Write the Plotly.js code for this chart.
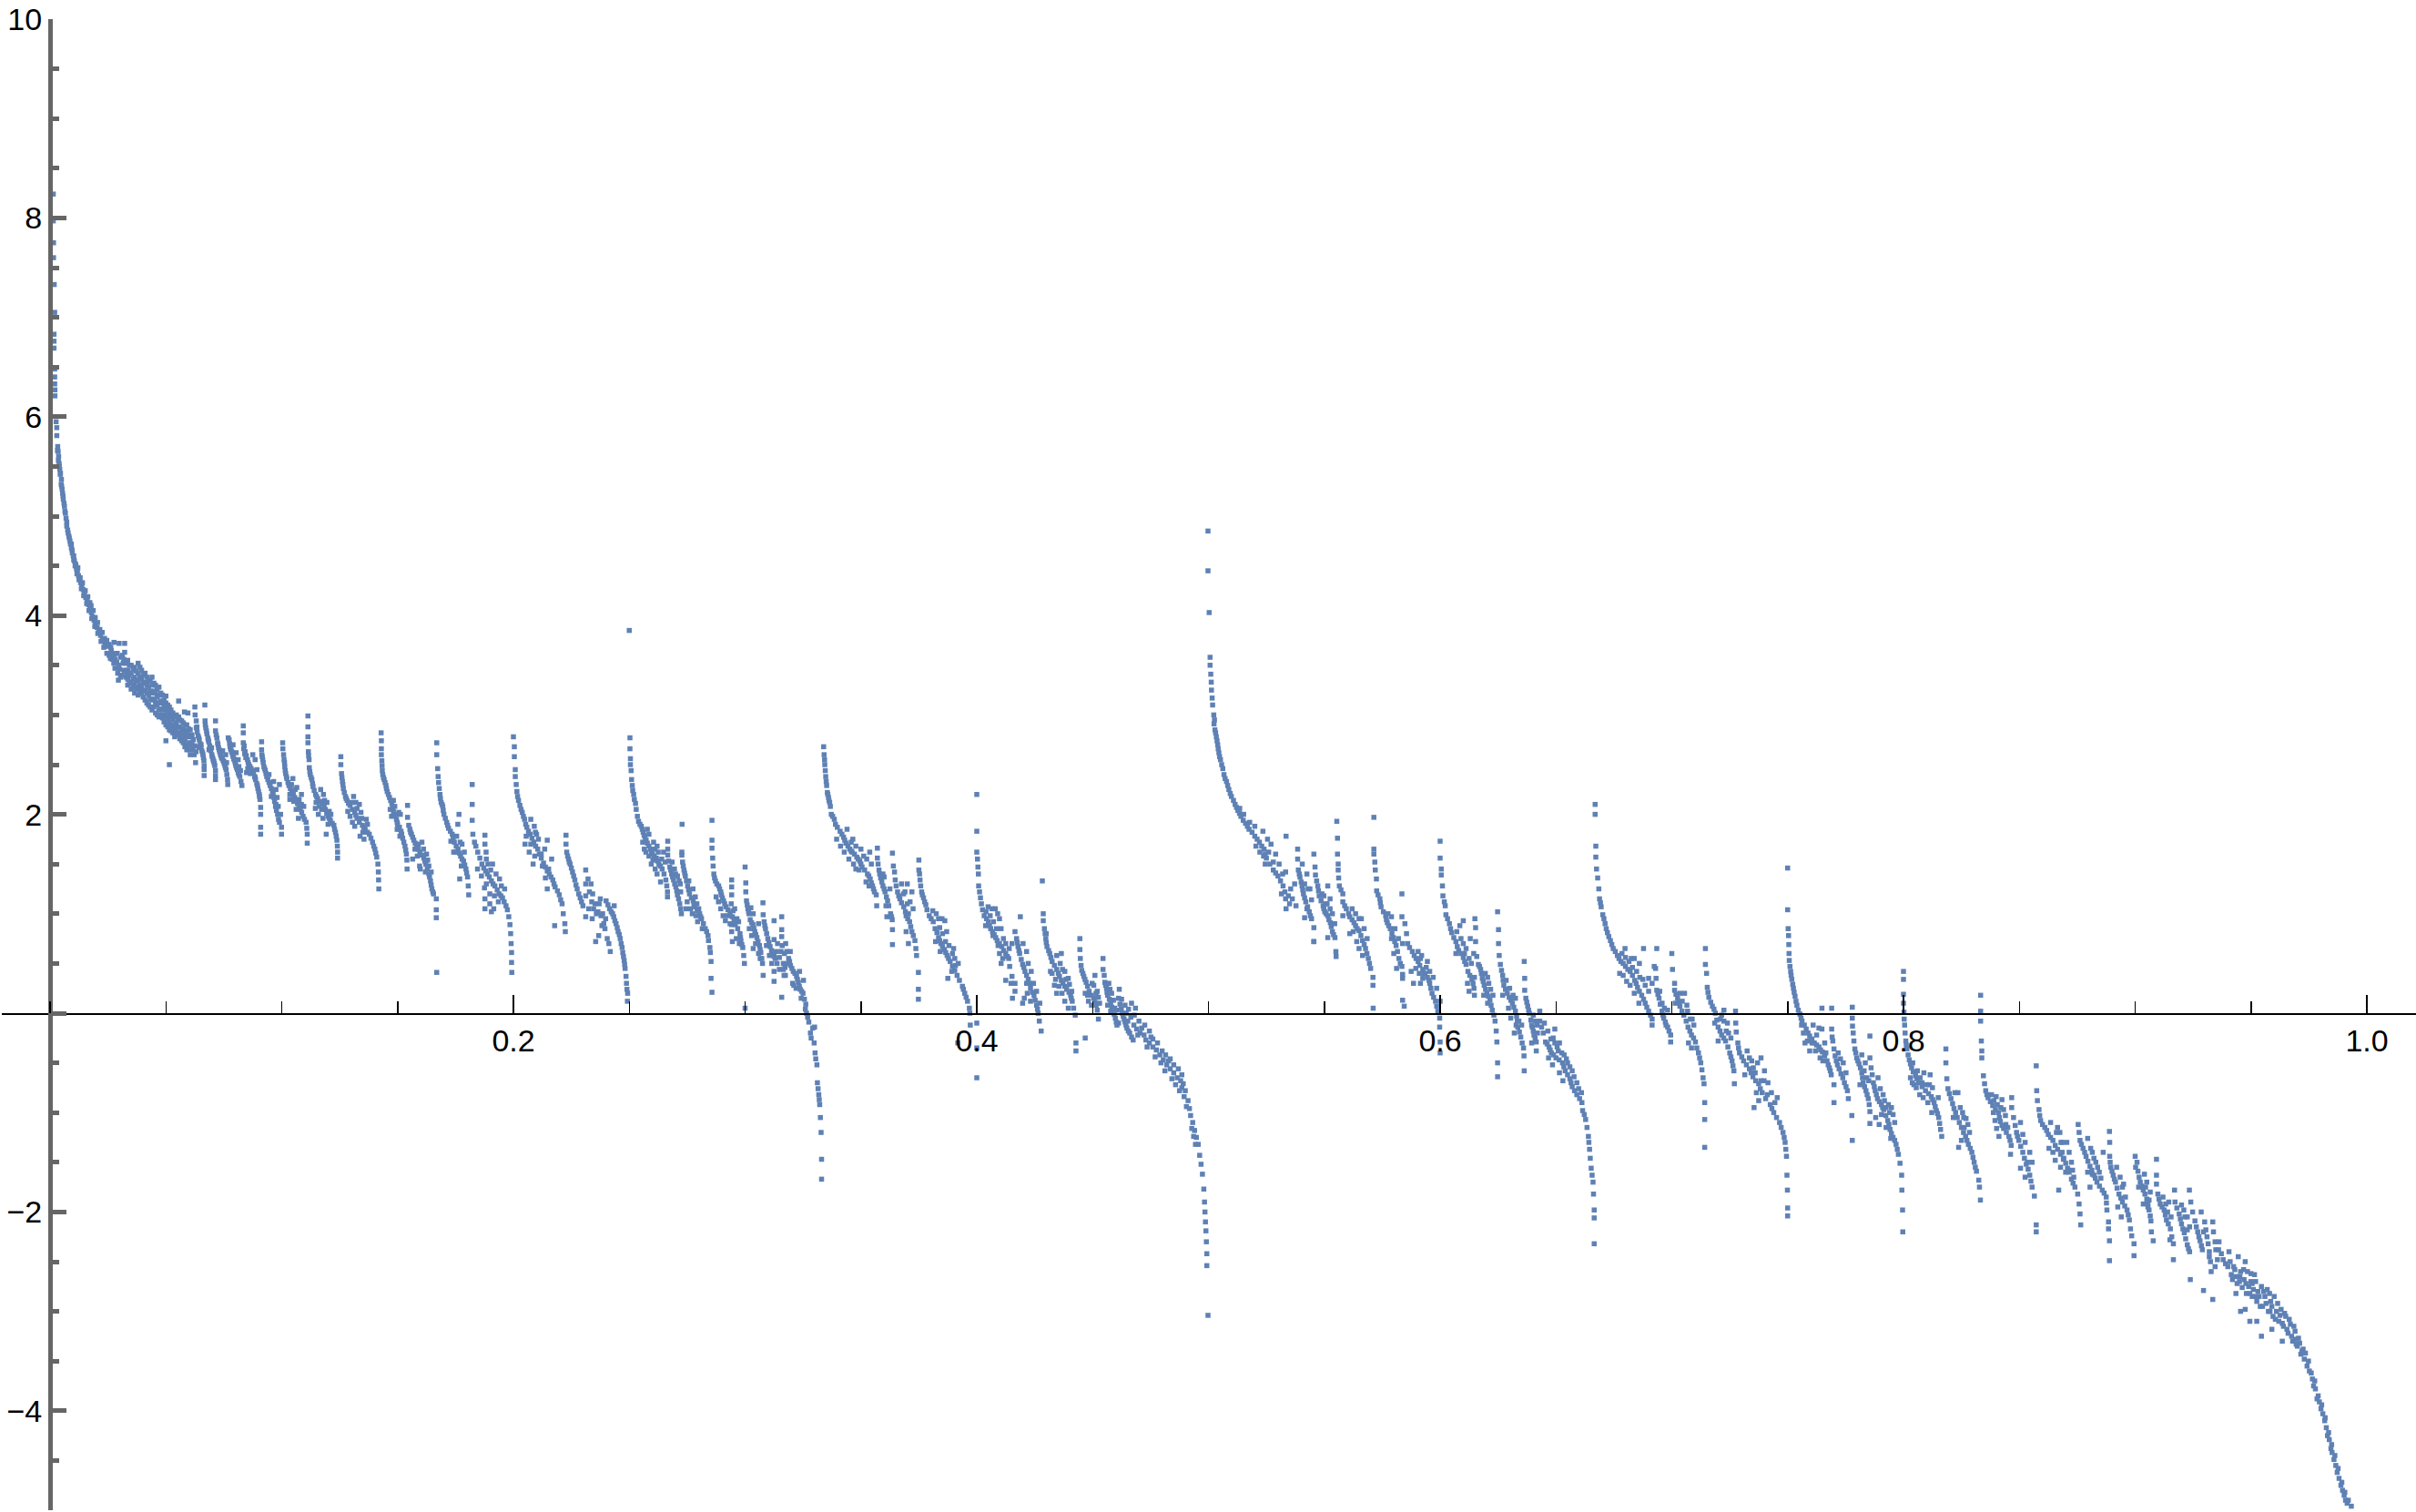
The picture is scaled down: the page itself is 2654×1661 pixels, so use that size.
<!DOCTYPE html>
<html><head><meta charset="utf-8">
<script src="https://cdn.plot.ly/plotly-3.0.0.min.js"></script>
<style>html,body{margin:0;padding:0;background:#fff}</style></head><body><div id="g" style="width:2654px;height:1661px"></div>
<script>
const head=[.0014,8.24,.0014,7.97,.0015,7.75,.0015,7.6,.0018,7.33,.002,7.05,.0017,6.83,.0017,6.76,.0017,6.69,.002,6.48,.002,6.4,.002,6.33,.0021,6.27,.0021,6.21,.0026,5.95,.0029,5.89,.0029,5.81,.0033,5.7,.0035,5.65,.0037,5.6,.0039,5.53,.0042,5.47,.0045,5.43,.0049,5.37,.005,5.3,.0054,5.23,.0057,5.17,.006,5.13,.0064,5.05,.0069,4.98,.0072,4.9,.0078,4.83,.0083,4.78,.0088,4.72,.0092,4.68,.0096,4.63,.01,4.6,.0105,4.55,.011,4.52,.0114,4.47,.0118,4.45,.0123,4.4,.0127,4.37,.0132,4.33,.0137,4.3,.0143,4.26,.0148,4.22,.0154,4.18,.016,4.15,.0166,4.11,.0172,4.07,.0178,4.03,.0183,3.99,.019,3.95,.0196,3.92,.0203,3.88,.021,3.84,.0218,3.8,.0226,3.76,.0237,3.72,.0249,3.69,.0264,3.65,.0279,3.61,.0032,5.66,.0036,5.56,.004,5.5,.0044,5.42,.0048,5.32,.0052,5.27,.0056,5.2,.0062,5.1,.0066,5.03,.0072,4.94,.0076,4.86,.0081,4.8,.0086,4.75,.0095,4.66,.0102,4.56,.0108,4.5,.0116,4.42,.0125,4.36,.0135,4.27,.0145,4.2,.0158,4.12,.0168,4.05,.018,3.97,.0193,3.89,.0206,3.82,.022,3.74,.0232,3.68,.0245,3.62,.026,3.57];
const headLane=[.0092,4.72,.0102,4.6,.0112,4.5,.012,4.48,.013,4.38,.014,4.33,.0152,4.25,.0163,4.19,.0172,4.13,.0177,4.1,.0186,4.05,.0195,3.98,.0205,3.93,.0215,3.86,.0225,3.83,.0235,3.77,.0245,3.75,.0255,3.71,.0262,3.68,.0276,3.73,.0298,3.72,.0322,3.72,.0322,3.63,.0255,3.6,.0268,3.56,.0275,3.52,.028,3.47,.0292,3.42,.0305,3.58,.0315,3.52,.032,3.45,.0327,3.38,.0295,3.35,.0288,3.53,.031,3.4,.0268,3.62,.0272,3.6,.0282,3.56,.029,3.62,.0296,3.5,.03,3.46,.0304,3.38,.0312,3.6,.0318,3.56,.0328,3.52,.033,3.42];
const band=[.0335,3.55,.0335,3.45,.0335,3.36,.0335,3.3,.035,3.5,.035,3.42,.035,3.33,.035,3.26,.0365,3.48,.0365,3.38,.0365,3.3,.0365,3.22,.038,3.52,.038,3.42,.038,3.35,.038,3.28,.038,3.2,.0395,3.45,.0395,3.36,.0395,3.28,.0395,3.22,.041,3.42,.041,3.33,.041,3.25,.041,3.15,.0425,3.35,.0425,3.28,.0425,3.2,.0425,3.1,.044,3.38,.044,3.3,.044,3.22,.044,3.15,.044,3.05,.0455,3.3,.0455,3.22,.0455,3.13,.0455,3.02,.047,3.28,.047,3.2,.047,3.12,.047,3.05,.047,2.98,.0485,3.2,.0485,3.12,.0485,3.05,.0485,2.97,.05,3.19,.05,3.12,.05,3.05,.05,2.98,.05,2.9,.05,2.74,.0515,3.08,.0515,3,.0515,2.92,.0515,2.85,.053,3.02,.053,2.95,.053,2.88,.053,2.82,.0545,3,.0545,2.92,.0545,2.85,.0545,2.8,.0555,3.14,.056,2.95,.056,2.88,.056,2.82,.056,2.76,.0575,2.92,.0575,2.85,.0575,2.78,.0575,2.72,.059,2.9,.059,2.84,.059,2.78,.059,2.7,.059,2.65,.0605,2.85,.0605,2.78,.0605,2.7,.0605,2.6,.0595,3.02,.0515,2.5,.0555,2.98,.058,3.03];
const bandFill=[.0342,3.5,.0342,3.4,.0342,3.32,.0358,3.46,.0358,3.36,.0358,3.28,.0372,3.44,.0372,3.34,.0372,3.26,.0388,3.48,.0388,3.38,.0388,3.3,.0388,3.24,.0402,3.4,.0402,3.32,.0402,3.24,.0402,3.18,.0418,3.38,.0418,3.3,.0418,3.22,.0418,3.12,.0432,3.34,.0432,3.24,.0432,3.16,.0432,3.08,.0448,3.32,.0448,3.24,.0448,3.16,.0448,3.08,.0462,3.26,.0462,3.18,.0462,3.1,.0462,3.0,.0478,3.22,.0478,3.14,.0478,3.06,.0478,3.0,.0492,3.15,.0492,3.08,.0492,3.0,.0492,2.93,.0508,3.1,.0508,3.03,.0508,2.95,.0508,2.88,.0522,3.05,.0522,2.98,.0522,2.9,.0522,2.84,.0538,2.98,.0538,2.9,.0538,2.84,.0538,2.78,.0552,2.96,.0552,2.88,.0552,2.8,.0568,2.94,.0568,2.86,.0568,2.8,.0568,2.74,.0582,2.9,.0582,2.82,.0582,2.75,.0582,2.68,.0598,2.86,.0598,2.8,.0598,2.72,.0598,2.65,.0612,2.8,.0612,2.78,.0612,2.65];
const a1_16=[.0625,3.08,.0626,3.0,.0631,2.94,.0631,2.87,.0635,2.83,.0639,2.79,.0644,2.75,.0648,2.71,.0655,2.64,.066,2.6,.0664,2.54,.0665,2.49,.0665,2.45,.0665,2.39,.0642,2.68,.0652,2.7,.0612,2.72,.0617,2.66,.0622,2.6,.0628,2.52,.0634,2.88,.0642,2.77,.0651,2.67,.0658,2.62,.0662,2.57,.0618,2.75,.0624,2.69,.063,2.63];
const a1_15=[.0668,3.1,.0669,2.94,.0672,2.87,.0677,2.81,.0681,2.77,.0685,2.73,.0689,2.69,.0694,2.64,.0698,2.6,.0703,2.56,.0707,2.53,.0711,2.49,.0714,2.44,.0714,2.39,.0714,2.35,.0686,2.65,.0697,2.67,.067,2.9,.0675,2.84,.0683,2.75,.0692,2.66,.07,2.58,.0705,2.54,.0709,2.51];
const a1_14=[.0714,2.94,.0714,2.84,.072,2.77,.0723,2.72,.0727,2.67,.0732,2.63,.0737,2.59,.0743,2.56,.075,2.53,.0755,2.49,.076,2.45,.0763,2.4,.0766,2.35,.0767,2.3,.0745,2.64,.0758,2.6,.0762,2.52,.0717,2.8,.0725,2.7,.073,2.65,.0735,2.61,.074,2.57,.0747,2.54,.0752,2.51,.0757,2.47];
const a1_13=[.0769,2.77,.0773,2.75,.0777,2.68,.0781,2.65,.0786,2.62,.079,2.58,.0795,2.55,.08,2.51,.0805,2.47,.0812,2.42,.0819,2.38,.0824,2.33,.0828,2.29,.079,2.7,.0803,2.62,.0812,2.55,.0815,2.48,.0822,2.44,.0775,2.71,.0779,2.66,.0784,2.63,.0788,2.6,.0793,2.56,.0798,2.53,.0802,2.49,.0808,2.45,.0815,2.4];
const a1_12=[.0834,2.89,.0834,2.82,.0834,2.72,.0838,2.69,.0842,2.63,.0847,2.59,.0852,2.55,.0858,2.5,.0868,2.46,.0878,2.42,.0883,2.38,.0887,2.35,.0892,2.31,.0897,2.26,.0903,2.2,.0906,2.15,.0909,2.07,.0909,2.0,.0909,1.87,.0909,1.8,.0853,2.46,.0848,2.42,.0865,2.41,.0875,2.6,.0885,2.55,.0893,2.45,.0836,2.66,.084,2.61,.0845,2.57,.0855,2.52,.0863,2.48,.0873,2.44,.0885,2.37,.0895,2.29,.09,2.23,.0904,2.18];
const a1_11=[.0913,2.73,.0913,2.65,.0914,2.6,.0918,2.55,.0923,2.48,.0929,2.44,.0935,2.38,.0945,2.32,.0955,2.26,.0963,2.2,.0969,2.13,.0977,2.04,.0986,1.95,.0999,1.87,.0999,1.8,.0945,2.4,.0955,2.18,.0965,2.33,.0975,2.25,.0975,2.1,.098,2.17,.099,2.3,.0985,2.08,.0995,2.0,.0916,2.58,.092,2.52,.0926,2.46,.0932,2.41,.094,2.35,.095,2.29,.096,2.23,.0966,2.17,.0973,2.08,.0982,2.0,.099,1.92];
const a1_10=[.1004,2.72,.1005,2.66,.1008,2.6,.101,2.55,.1013,2.48,.1017,2.41,.1022,2.36,.1031,2.29,.1043,2.23,.1056,2.17,.1068,2.11,.108,2.05,.1092,1.98,.1105,1.92,.1108,1.86,.111,1.8,.111,1.71,.1035,2.2,.1048,2.36,.1052,2.13,.1065,2.27,.1075,2.15,.1085,2.2,.1095,2.08,.1072,1.96,.1035,2.15,.1012,2.52,.1015,2.44,.102,2.38,.1027,2.32,.1037,2.26,.105,2.2,.1062,2.14,.1074,2.08,.1086,2.02,.1098,1.95,.1042,2.3,.1058,2.25,.1062,2.05,.1085,2.1];
const a1_9=[.1113,2.99,.1113,2.88,.1113,2.78,.1113,2.72,.1115,2.63,.1118,2.55,.1119,2.47,.1123,2.4,.113,2.35,.1135,2.28,.1146,2.2,.1155,2.16,.1178,2.11,.1188,2.05,.12,1.98,.121,1.94,.1225,1.89,.1232,1.82,.1238,1.74,.124,1.68,.1241,1.62,.1241,1.56,.1145,2.06,.1158,2.0,.1168,2.25,.118,2.2,.1195,2.12,.12,1.9,.1192,1.8,.1205,2.03,.1116,2.59,.1121,2.43,.1127,2.37,.1133,2.31,.114,2.24,.115,2.18,.1165,2.13,.1172,2.05,.1183,2.08,.1194,2.01,.1205,1.96,.1218,1.91,.1228,1.85,.1235,1.78,.1148,2.12,.1162,2.08,.1185,2.14,.1178,1.96,.1212,2.0];
const a1_8=[.1255,2.58,.1255,2.5,.1258,2.41,.1262,2.33,.1266,2.26,.1275,2.18,.1282,2.14,.1295,2.09,.1315,2.02,.1325,1.96,.1348,1.89,.136,1.85,.1378,1.8,.1392,1.72,.1402,1.65,.141,1.57,.1415,1.5,.1417,1.42,.1418,1.34,.1419,1.25,.1295,1.98,.131,2.18,.132,2.12,.1335,2.1,.1345,1.96,.1355,1.75,.1338,1.78,.1365,1.95,.1260,2.37,.1264,2.3,.127,2.22,.1278,2.16,.1288,2.11,.1305,2.05,.132,1.99,.1335,1.92,.1354,1.87,.137,1.82,.1385,1.76,.1397,1.68,.1406,1.61,.1303,2.12,.1305,1.92,.1325,2.06,.1342,2.02,.135,1.82,.137,1.9,.1285,2.03,.1315,1.88];
const a1_7=[.1429,2.82,.143,2.74,.143,2.66,.143,2.6,.1433,2.49,.1436,2.4,.1442,2.35,.145,2.29,.1455,2.23,.1465,2.17,.1475,2.11,.1482,2.03,.1495,1.95,.15,1.9,.1515,1.83,.1522,1.76,.1532,1.68,.1538,1.6,.154,1.54,.1541,1.45,.1468,2.05,.1482,2.14,.1492,2.0,.151,1.78,.1512,2.0,.1505,1.85,.1432,2.54,.1434,2.44,.1439,2.37,.1446,2.32,.1452,2.26,.146,2.2,.147,2.14,.1478,2.07,.1488,1.99,.1498,1.92,.1508,1.87,.1518,1.8,.1527,1.72,.1535,1.64,.1474,1.98,.1488,2.08,.1498,1.85,.1505,2.02];
const a2_13=[.1543,2.09,.1543,1.97,.1548,1.89,.1553,1.85,.156,1.8,.157,1.74,.1582,1.68,.1596,1.62,.1613,1.56,.1622,1.5,.1635,1.4,.1642,1.33,.1648,1.25,.1655,1.2,.1667,1.15,.1667,1.04,.1667,.96,.1575,1.65,.1595,1.48,.159,1.7,.162,1.42,.1612,1.65,.1565,1.55,.1635,1.48,.1556,1.82,.1565,1.77,.1576,1.71,.1589,1.65,.1604,1.59,.1618,1.53,.1628,1.45,.1638,1.37,.1645,1.29,.1652,1.22,.1585,1.58,.1605,1.72,.1625,1.6,.1598,1.45,.163,1.54,.1645,1.42];
const a1_6=[.1669,2.72,.1669,2.6,.1673,2.46,.1675,2.38,.1677,2.32,.1683,2.2,.1688,2.12,.1695,2.08,.17,2.0,.1712,1.92,.172,1.86,.1736,1.8,.1745,1.72,.1761,1.65,.1772,1.58,.1785,1.53,.1795,1.45,.1802,1.37,.1805,1.28,.1807,1.19,.1669,.41,.173,1.73,.1748,1.62,.176,1.9,.1765,2.0,.1768,1.35,.1778,1.7,.168,2.26,.1685,2.16,.1692,2.1,.1697,2.04,.1706,1.96,.1716,1.89,.1728,1.83,.174,1.76,.1753,1.68,.1767,1.61,.1778,1.55,.179,1.49,.1798,1.41,.1755,1.78,.177,1.72,.1775,1.48,.1742,1.62,.1788,1.62];
const a2_11=[.1822,2.3,.1822,2.1,.1822,1.94,.1825,1.8,.1832,1.72,.1838,1.68,.1855,1.56,.1872,1.46,.1888,1.4,.1905,1.33,.192,1.28,.1938,1.2,.1953,1.16,.1968,1.08,.1974,1.04,.1985,.89,.1988,.8,.199,.7,.1992,.61,.1992,.51,.1993,.41,.1877,1.79,.1877,1.7,.1883,1.55,.1877,1.15,.1877,1.05,.1883,1.3,.1898,1.2,.1882,1.62,.191,1.5,.1905,1.02,.1925,1.4,.194,1.35,.1846,1.62,.1864,1.5,.188,1.43,.1896,1.37,.1912,1.3,.193,1.24,.1946,1.18,.196,1.12,.198,.97,.1845,1.45,.1862,1.38,.1875,1.26,.189,1.5,.1902,1.44,.1918,1.18,.1935,1.12,.1948,1.28,.1962,1.25,.1898,1.1,.1915,1.05];
const a1_5=[.2,2.78,.2004,2.68,.2004,2.58,.2008,2.45,.2008,2.38,.2012,2.3,.2015,2.23,.2022,2.14,.2028,2.09,.2038,2.02,.2048,1.95,.2058,1.87,.2072,1.8,.2088,1.72,.2105,1.65,.212,1.56,.2138,1.47,.2155,1.4,.217,1.34,.218,1.27,.2198,1.19,.221,1.1,.2215,1.0,.2222,.9,.2224,.82,.205,1.7,.2068,1.62,.2075,1.95,.209,1.88,.2085,1.5,.21,1.8,.212,1.6,.2135,1.65,.2146,1.74,.2146,1.25,.2178,.88,.2152,1.45,.2165,1.55,.2018,2.18,.2033,2.05,.2043,1.98,.2053,1.9,.2065,1.83,.208,1.76,.2096,1.68,.2112,1.6,.213,1.51,.2146,1.43,.2162,1.37,.2175,1.3,.219,1.23,.2204,1.14,.2055,1.78,.2075,1.7,.2092,1.58,.2108,1.75,.2125,1.48,.2138,1.36,.2095,1.82];
const a2_9=[.2227,1.79,.2227,1.7,.223,1.62,.2238,1.55,.2245,1.5,.2255,1.42,.2265,1.34,.2275,1.25,.2288,1.16,.23,1.08,.2312,1.44,.2312,1.3,.2312,1.18,.2312,.97,.2322,1.35,.2335,1.3,.2342,1.2,.2352,1.1,.2365,1.02,.2378,.98,.239,.9,.2395,.85,.2405,.75,.2418,.62,.234,.95,.2355,.72,.2375,1.15,.2368,.78,.2385,1.0,.2234,1.58,.2241,1.52,.225,1.46,.226,1.38,.227,1.29,.2282,1.2,.2294,1.12,.2328,1.22,.2338,1.12,.2346,1.05,.2358,1.0,.2325,1.05,.237,1.1,.2382,.88,.2398,.95,.2412,.7];
const a1_4tail=[.24,1.13,.2415,1.05,.2428,1.0,.2438,.93,.2448,.86,.2457,.79,.2465,.7,.2472,.61,.2478,.53,.2482,.45,.2486,.37,.2488,.3,.249,.24,.2492,.12,.2493,.2,.2408,1.09,.2422,1.02,.2433,.97,.2443,.9,.2452,.82,.2461,.75,.2469,.66,.2475,.57,.248,.49,.2435,1.08];
const a1_4=[.25,3.85,.2503,2.77,.2503,2.66,.2505,2.56,.2505,2.5,.2508,2.44,.251,2.35,.2513,2.29,.2515,2.24,.2519,2.2,.2522,2.15,.2527,2.11,.253,2.05,.2535,1.98,.254,1.93,.2552,1.88,.256,1.82,.2568,1.77,.2578,1.71,.2592,1.65,.26,1.6,.2617,1.56,.2628,1.5,.2642,1.45,.265,1.4,.2658,1.34,.2662,1.28,.2665,1.22,.2665,1.17,.2565,1.65,.2578,1.85,.2605,1.72,.2612,1.45,.262,1.68,.2648,1.62,.2595,1.5,.2635,1.32,.2546,1.9,.2556,1.85,.2564,1.79,.2573,1.74,.2585,1.68,.2596,1.62,.2608,1.58,.2622,1.53,.2635,1.48,.2558,1.72,.2572,1.62,.2585,1.58,.2602,1.54,.2612,1.65,.2625,1.62,.264,1.55,.2655,1.52,.2585,1.8,.262,1.4];
const a4_15=[.2666,1.73,.2666,1.65,.2666,1.59,.2675,1.47,.2683,1.4,.2691,1.34,.2701,1.27,.2708,1.19,.2718,1.1,.2725,1.0,.2685,1.52,.2695,1.45,.2708,1.38,.272,1.3,.267,1.53,.2679,1.44,.2687,1.37,.2696,1.3,.2705,1.23,.2713,1.15,.2722,1.05,.27,1.4,.2715,1.33,.2722,1.22];
const a3_11=[.2728,1.9,.2727,1.62,.2727,1.59,.273,1.52,.2736,1.44,.2742,1.38,.2752,1.28,.276,1.2,.2776,1.13,.2782,1.07,.2804,1.0,.2812,.95,.2828,.85,.284,.78,.2842,.73,.2848,.66,.285,.61,.2853,.52,.2853,.35,.2857,.21,.275,1.12,.2745,1.05,.2765,1.05,.2785,1.17,.2795,.92,.2792,1.1,.2733,1.48,.2739,1.41,.2747,1.33,.2756,1.24,.2768,1.16,.2779,1.1,.2793,1.03,.2808,.97,.282,.9,.2834,.82,.2772,1.0,.2788,.98,.28,1.05,.2815,.85,.2757,1.33,.2775,1.25];
const a2_7=[.2857,1.94,.2857,1.74,.2857,1.66,.286,1.56,.2865,1.4,.2872,1.33,.2886,1.28,.2895,1.22,.2902,1.16,.2912,1.1,.2926,1.04,.2945,.97,.2958,.89,.2978,.8,.2982,.73,.299,.66,.2994,.58,.2997,.5,.2942,1.34,.2942,1.27,.2942,1.19,.2942,.89,.2942,.82,.2895,1.05,.2905,.98,.2925,.98,.294,1.1,.2955,1.05,.2965,.95,.2975,.7,.2945,.72,.2962,.75,.2862,1.48,.2868,1.36,.2878,1.3,.289,1.25,.2898,1.19,.2907,1.13,.2918,1.07,.2935,1.01,.2952,.93,.2968,.85,.298,.76,.2986,.69,.2875,1.17,.2885,1.12,.2915,.93,.2935,.9,.2948,1.03,.2972,.92];
const a3_10=[.3,1.47,.3003,1.31,.3003,1.22,.3006,1.13,.3012,1.05,.3017,1.0,.3022,.94,.3034,.89,.3042,.82,.3051,.76,.3062,.68,.3068,.61,.3075,.5,.3078,.38,.3,.05,.3018,.85,.3035,.65,.3058,.9,.3065,.55,.3025,1.06,.3009,1.09,.3015,1.02,.3028,.91,.3038,.85,.3046,.79,.3056,.72,.3065,.64,.3072,.55,.3028,.78,.3045,.7,.3058,.6,.3035,1.0];
const a4_13=[.3077,1.11,.3078,.99,.3082,.92,.3088,.85,.3098,.75,.3108,.67,.312,.6,.313,.55,.3125,.93,.3125,.74,.3158,.97,.3158,.84,.3158,.77,.3174,.38,.3125,.32,.3158,.16,.3115,.5,.3125,.42,.314,.7,.3155,.62,.3138,.5,.3165,.5,.3175,.7,.318,.62,.317,.6,.3085,.88,.3093,.8,.3103,.71,.3114,.63,.3125,.57,.3092,.68,.3105,.58,.3135,.62,.3148,.56,.316,.68,.3172,.46,.3148,.44,.3185,.5,.3168,.38];
const a1_3tail=[.3165,.44,.3188,.55,.3196,.48,.3208,.42,.3222,.37,.323,.31,.3238,.24,.325,.2,.3262,.09,.3265,0,.327,-.04,.3275,-.09,.3282,-.2,.3298,-.3,.3302,-.4,.331,-.52,.3312,-.7,.3318,-.82,.3322,-.92,.3325,-1.05,.3328,-1.2,.333,-1.47,.333,-1.67,.3205,.3,.322,.25,.3235,.42,.3252,.33,.3195,.62,.321,.28,.3242,.15,.3192,.52,.3202,.45,.3215,.4,.3226,.34,.3234,.27,.3244,.22,.3256,.14,.3285,-.25,.3305,-.46,.3315,-.76,.332,-.87,.3292,-.15,.326,.04,.33,-.14];
const a1_3=[.3339,2.68,.3341,2.6,.3344,2.5,.3346,2.44,.3348,2.38,.3352,2.29,.3355,2.22,.336,2.17,.3365,2.12,.3368,2.08,.3372,2.0,.3385,1.95,.339,1.9,.341,1.83,.3425,1.77,.3435,1.71,.3452,1.65,.3462,1.62,.3482,1.57,.3495,1.53,.3505,1.47,.3528,1.4,.354,1.35,.355,1.28,.3558,1.22,.3566,1.19,.3568,1.08,.344,1.85,.3465,1.75,.3478,1.45,.35,1.65,.3525,1.55,.3535,1.28,.3468,1.5,.3545,1.5,.3343,2.55,.335,2.33,.3357,2.2,.3362,2.14,.3378,1.98,.3398,1.87,.3418,1.8,.343,1.74,.3444,1.68,.3458,1.63,.3472,1.6,.3488,1.55,.35,1.5,.3516,1.44,.3534,1.38,.3545,1.31,.3554,1.25,.3412,1.68,.3428,1.62,.3448,1.55,.3458,1.72,.3478,1.68,.3492,1.44,.3512,1.58,.3522,1.32,.3395,1.75,.3538,1.62];
const a5_14=[.3571,1.66,.3571,1.56,.3578,1.44,.3585,1.36,.3595,1.28,.3604,1.22,.3615,1.13,.3628,1.0,.3635,.94,.3636,.84,.3636,.69,.3595,1.4,.3625,1.25,.3612,.97,.3574,1.5,.3581,1.4,.359,1.32,.36,1.25,.361,1.17,.362,1.08,.3632,.97,.36,1.37,.3608,1.08];
const a4_11=[.3636,1.61,.364,1.48,.3645,1.42,.3648,1.34,.3658,1.22,.3668,1.15,.3685,1.07,.3695,.98,.371,.92,.372,.82,.3733,.73,.374,.58,.3748,.41,.3748,.24,.3748,.14,.369,1.22,.37,1.3,.3712,1.12,.372,1.22,.3695,.82,.3705,.7,.3652,1.28,.3663,1.18,.3675,1.11,.3692,1.02,.3702,.95,.3715,.87,.3726,.78,.3737,.65,.3675,1.3,.3684,1.2,.37,1.1,.3725,1.05,.3705,1.0];
const a3_8=[.375,1.54,.375,1.44,.3753,1.4,.3755,1.34,.3758,1.28,.3762,1.22,.377,1.16,.378,1.09,.3785,1.04,.3795,.98,.3812,.92,.382,.85,.3835,.76,.3845,.7,.386,.64,.3872,.58,.3885,.52,.3905,.43,.3915,.38,.3938,.27,.3948,.2,.396,.12,.3968,.05,.397,0,.3972,-.12,.3918,-.3,.381,1.03,.3825,1.0,.384,.86,.385,.95,.387,.82,.39,.65,.3892,.42,.3905,.55,.3862,.93,.3875,.35,.3765,1.19,.3775,1.12,.3803,.95,.3828,.81,.384,.73,.3852,.67,.3866,.61,.3878,.55,.3895,.47,.3925,.33,.3942,.24,.3954,.16,.3835,.95,.3852,.8,.3865,.72,.388,.68,.3895,.6,.3908,.48,.392,.5,.3822,.72,.3842,.62];
const a2_5=[.4,2.2,.4,1.83,.4,1.62,.4003,1.55,.4005,1.47,.4007,1.4,.4008,1.28,.4012,1.22,.4016,1.16,.402,1.1,.4025,1.04,.4032,.98,.405,.92,.406,.85,.4075,.79,.4088,.73,.4108,.67,.4125,.6,.4138,.55,.4152,.37,.4154,.15,.4049,1.07,.4065,1.05,.4038,.88,.408,1.05,.4098,.95,.407,.78,.4105,.85,.4115,.75,.4105,.5,.4125,.33,.4,-.1,.4,-.35,.4,-.65,.4042,.95,.4055,.88,.4068,.82,.4082,.76,.4098,.7,.4116,.63,.4132,.57,.4142,.47,.4148,.3,.4058,.98,.4072,.92,.4085,.85,.409,1.0,.4098,.6,.4112,.55,.4125,.7,.414,.65,.4152,.7,.4092,.68,.404,1.02];
const a5_12=[.4165,.82,.4172,.75,.4178,.67,.4185,.6,.4198,.49,.4208,.42,.4222,.34,.4232,.25,.4247,.18,.4258,.08,.4265,0,.427,-.08,.4278,-.18,.42,.7,.4215,.62,.4205,.15,.4215,.3,.4188,.97,.4165,.3,.4165,.22,.4198,.1,.4175,.71,.4182,.63,.4192,.54,.4203,.46,.4215,.38,.4228,.3,.424,.21,.4252,.13,.4262,.04,.4222,.5,.4235,.42,.4245,.3,.4258,.22,.4272,.1,.4218,.2,.4232,.12];
const a3_7=[.4283,1.33,.4287,1.0,.4287,.93,.4292,.85,.4298,.75,.4303,.67,.4315,.6,.4325,.52,.4345,.44,.4357,.37,.4372,.3,.4388,.24,.4405,.18,.4412,.12,.4425,-.02,.4428,-.3,.4428,-.38,.43,.8,.4318,.42,.4335,.28,.4345,.2,.438,.42,.4395,.35,.4365,.6,.4295,.8,.43,.71,.431,.63,.432,.56,.4335,.48,.4352,.4,.4365,.33,.438,.27,.4398,.21,.4408,.15,.4418,.05,.4325,.4,.434,.34,.4355,.27,.4368,.2,.438,.12,.4395,.05,.4345,.58,.436,.5,.437,.44,.4385,.34,.44,.29,.441,.22];
const a4_9=[.4445,.75,.4445,.64,.4447,.55,.445,.48,.4453,.43,.4462,.37,.4472,.31,.4485,.22,.4505,.15,.4515,.08,.452,.03,.4525,-.06,.4498,.3,.451,.38,.4478,.18,.4495,.08,.4468,-.25,.452,.22,.453,.1,.4458,.4,.4467,.34,.4478,.27,.4495,.18,.451,.11,.4468,.2,.4482,.12,.4505,.28,.4515,.2,.4525,.16];
const a5_11=[.4545,.55,.4545,.44,.455,.38,.4553,.31,.456,.25,.4565,.18,.4578,.1,.4588,.03,.4598,-.05,.4605,-.12,.457,.3,.4582,.2,.4612,.15,.4612,-.1,.4595,.05,.4556,.28,.4562,.21,.4572,.14,.4583,.06,.4593,-.01,.4602,-.09,.4575,.24,.459,.13,.4605,.03,.4565,.08,.4578,.02];
const a6_13=[.4615,.24,.4618,.09,.4628,0,.4632,-.03,.464,-.09,.4648,-.15,.466,-.2,.4675,-.27,.4625,.14,.4645,0,.4668,.1,.468,-.02,.47,-.08,.4695,-.22,.4712,-.15,.4624,.04,.4636,-.06,.4644,-.12,.4654,-.18,.4668,-.24,.4655,.04,.4665,-.04,.4678,-.12,.469,-.16,.4705,-.2,.4652,-.08,.464,.08,.4685,.05];
const a1_2tail=[.4722,-.22,.473,-.27,.4745,-.3,.476,-.34,.4775,-.37,.479,-.42,.4805,-.47,.482,-.52,.4835,-.56,.485,-.6,.4865,-.65,.488,-.68,.4891,-.71,.49,-.78,.4912,-.88,.4923,-1.03,.4932,-1.1,.494,-1.18,.4948,-1.25,.4956,-1.32,.4962,-1.43,.4968,-1.52,.4974,-1.62,.498,-1.77,.4983,-1.9,.4985,-2.0,.4987,-2.1,.4989,-2.19,.4991,-2.3,.4993,-2.42,.4993,-2.54,.4998,-3.04,.4745,-.18,.476,-.26,.478,-.3,.48,-.38,.4815,-.42,.4835,-.46,.485,-.52,.487,-.56,.4885,-.62,.4885,-.75,.4725,-.12,.4735,-.34,.4752,-.24,.477,-.44,.4795,-.5,.4812,-.58,.4828,-.48,.4842,-.66,.4858,-.72,.4875,-.78,.4895,-.84,.4905,-.94,.4918,-.96,.4928,-1.16,.4936,-1.24,.4944,-1.32];
const a1_2=[.4998,4.85,.4998,4.45,.5003,4.03,.5007,3.58,.5007,3.5,.501,3.41,.5012,3.33,.5013,3.25,.5016,3.17,.5018,3.1,.5023,3.0,.5024,2.91,.5028,2.85,.5034,2.78,.504,2.7,.5045,2.62,.5052,2.55,.5062,2.46,.5067,2.4,.5078,2.33,.5088,2.25,.5099,2.18,.5115,2.1,.5127,2.04,.514,1.98,.516,1.91,.5175,1.85,.52,1.78,.522,1.72,.524,1.65,.525,1.56,.528,1.44,.53,1.38,.5322,1.28,.533,1.22,.5362,1.15,.5378,1.08,.5205,1.68,.5235,1.83,.5255,1.75,.5245,1.5,.527,1.7,.529,1.6,.5335,1.78,.5333,1.42,.5333,1.15,.5335,1.05,.532,1.4,.5355,1.25,.5372,1.3,.5026,2.95,.5031,2.82,.5037,2.74,.5042,2.66,.5048,2.58,.5057,2.5,.5072,2.36,.5083,2.29,.5094,2.21,.5108,2.14,.5121,2.07,.5134,2.01,.515,1.94,.5168,1.88,.5188,1.82,.521,1.75,.523,1.68,.5245,1.6,.5265,1.5,.529,1.41,.5311,1.33,.5345,1.18,.5135,2.06,.5152,2.0,.5178,1.92,.52,1.88,.5222,1.62,.5238,1.58,.526,1.62,.528,1.52,.5305,1.5,.5315,1.2,.535,1.1];
const a7_13=[.5385,1.65,.5385,1.55,.5388,1.44,.5395,1.37,.5404,1.28,.541,1.2,.542,1.12,.5435,1.02,.5445,.95,.5405,1.5,.5425,1.4,.5438,1.25,.5445,1.14,.5415,.96,.5455,.72,.5455,.86,.5392,1.4,.54,1.32,.5407,1.24,.5415,1.16,.5428,1.07,.544,.98,.5415,1.3,.543,1.25,.5425,1.05];
const a6_11=[.5455,1.6,.546,1.47,.5462,1.39,.5472,1.28,.5478,1.18,.5495,1.08,.5502,1.02,.5515,.98,.5526,.91,.5535,.82,.5546,.76,.555,.62,.5551,.57,.549,1.2,.5505,1.1,.5515,1.28,.5525,1.15,.5535,1.0,.5455,.72,.5515,.76,.5467,1.33,.5475,1.23,.5486,1.13,.5498,1.05,.5508,1.0,.552,.94,.553,.87,.554,.79,.5498,1.18,.5512,1.1,.5525,1.05,.5545,.9];
const a5_9=[.5554,1.93,.5557,1.76,.5557,1.6,.556,1.5,.556,1.44,.5565,1.28,.558,1.2,.558,1.12,.5595,1.05,.562,.94,.5635,.88,.565,.83,.5665,.73,.5678,.65,.569,.55,.57,.45,.571,.36,.5711,.05,.571,.28,.558,.98,.5605,1.0,.561,.8,.5635,1,.565,.65,.5665,.58,.566,.95,.5562,1.36,.5572,1.24,.5588,1.08,.561,.97,.5628,.91,.5642,.85,.5658,.78,.5672,.69,.5684,.6,.5695,.5,.562,1.05,.5625,.82,.564,.72,.565,.95,.5672,.85,.5685,.75];
const a4_7=[.5714,1.97,.5714,1.65,.5714,1.6,.5718,1.52,.572,1.44,.5725,1.35,.5726,1.23,.574,1.15,.5745,1.07,.5765,.98,.5772,.91,.5785,.85,.5798,.76,.581,.68,.5822,.55,.5835,.47,.5838,.39,.579,.97,.5835,1.2,.5835,.97,.5838,.7,.5838,.35,.5838,.13,.5845,.07,.58,.6,.5812,.45,.5732,1.19,.5742,1.11,.5755,1.02,.5768,.94,.5778,.88,.5792,.8,.5804,.72,.5816,.62,.5828,.5,.5775,1.0,.579,.75,.5805,.85,.582,.75];
const a7_12=[.5848,.9,.5855,.8,.586,.7,.588,.62,.5896,.55,.5905,.52,.5925,.44,.5945,.36,.5955,.3,.5965,.2,.598,.12,.599,.02,.5998,-.05,.5998,-.14,.6,-.29,.6,-.4,.5915,.55,.593,.4,.5945,.52,.5885,.3,.5875,.42,.5915,.3,.6,.12,.5868,.66,.5888,.58,.5912,.48,.5935,.4,.5952,.33,.596,.25,.5972,.16,.5985,.07,.5905,.62,.592,.58,.594,.46,.5955,.42,.597,.36,.5985,.25,.5895,.45,.591,.4,.5925,.35];
const a3_5=[.6,1.73,.6,1.56,.6005,1.45,.6005,1.39,.601,1.28,.6012,1.18,.6022,1.08,.6025,.99,.604,.9,.605,.81,.6068,.72,.608,.63,.61,.56,.6112,.49,.612,.42,.6137,.34,.6146,.25,.6148,.18,.6085,.88,.61,.93,.6105,.6,.6125,.55,.613,.75,.615,.95,.6125,.22,.6148,.36,.6018,1.12,.6032,.95,.6045,.85,.6059,.76,.6074,.67,.609,.6,.6106,.52,.6128,.38,.6142,.3,.6072,.82,.609,.75,.61,.7,.6112,.65,.6118,.3,.6135,.5,.6145,.6,.6068,.6];
const a8_13=[.6153,.86,.6153,.72,.6158,.57,.6165,.49,.6175,.44,.6182,.35,.619,.28,.6202,.2,.6215,.13,.6225,.03,.6237,-.08,.6242,-.18,.6245,-.29,.6248,-.5,.6248,-.64,.6195,.4,.621,.3,.6228,.18,.617,.47,.6178,.4,.6186,.32,.6196,.24,.6208,.17,.622,.08,.6232,-.02,.6205,.36,.6218,.24,.6188,.18,.6205,.1];
const a5_8=[.6248,1.02,.6252,.84,.6252,.7,.6255,.58,.626,.49,.627,.38,.6275,.28,.629,.2,.6305,.13,.6318,.06,.633,-.03,.6335,-.14,.6348,-.24,.636,-.35,.6362,-.43,.6363,-.58,.627,.18,.6285,.33,.63,.25,.6325,.15,.6305,-.05,.632,-.2,.634,-.08,.6265,.43,.6272,.33,.6282,.24,.6298,.16,.6312,.1,.6325,.02,.6333,-.08,.6342,-.19,.6354,-.3,.6295,.05,.6315,.18,.6328,-.12,.6352,-.12];
const a7_11=[.6363,.52,.6365,.35,.6365,.23,.637,.15,.6378,.07,.6385,0,.6398,-.14,.6405,-.22,.6415,-.29,.642,-.2,.6395,-.3,.6415,-.38,.6395,-.12,.6412,-.08,.6374,.11,.6382,.03,.6392,-.07,.6402,-.18,.641,-.25,.6402,-.02,.6418,-.12];
const a9_14=[.643,.02,.643,-.08,.6438,-.14,.6445,-.2,.6455,-.29,.647,-.34,.648,-.4,.65,-.45,.6528,-.5,.654,-.58,.656,-.66,.657,-.74,.659,-.82,.6612,-.9,.6615,-.98,.6628,-1.07,.664,-1.24,.6645,-1.37,.6652,-1.56,.666,-1.7,.6662,-1.82,.6665,-1.98,.6665,-2.06,.6665,-2.32,.645,-.1,.6465,-.18,.6478,-.26,.6495,-.3,.651,-.38,.6485,-.52,.6515,-.6,.6515,-.3,.6535,-.42,.655,-.5,.657,-.58,.659,-.7,.6468,-.45,.653,-.68,.6495,-.16,.6462,-.31,.6475,-.37,.649,-.42,.6514,-.47,.6534,-.54,.655,-.62,.6565,-.7,.658,-.78,.6602,-.86,.6622,-1.02,.6634,-1.15,.6642,-1.3,.6648,-1.46,.6656,-1.63,.6488,-.25,.6505,-.34,.6525,-.4,.6545,-.46,.656,-.54,.6578,-.64,.6598,-.76,.661,-.8];
const a2_3=[.6669,2.1,.6669,2.0,.6672,1.68,.6672,1.57,.6675,1.45,.668,1.36,.6685,1.25,.6688,1.15,.6695,1.07,.6702,.99,.6712,.9,.6722,.81,.6735,.73,.6747,.65,.6765,.58,.678,.52,.68,.47,.682,.42,.684,.33,.6852,.26,.687,.18,.6885,.1,.69,.02,.6915,-.06,.6915,-.12,.6798,.65,.6805,.32,.6838,.55,.6825,.55,.6875,.34,.6878,.65,.69,.22,.6935,.65,.6915,.3,.693,.45,.686,.5,.6775,.4,.6692,1.11,.6707,.95,.6717,.85,.6728,.77,.6741,.69,.6756,.62,.6772,.55,.679,.5,.681,.44,.683,.38,.6846,.3,.686,.22,.6878,.14,.6892,.06,.6908,-.02,.6785,.6,.68,.56,.6815,.52,.683,.46,.6848,.42,.6862,.36,.6885,.28,.69,.35,.679,.38,.682,.28,.6838,.2,.6858,.1];
const a9_13=[.6924,.47,.6932,.35,.6935,.23,.6945,.15,.6958,.02,.6965,-.05,.6982,-.14,.6995,-.22,.6995,-.29,.6958,.1,.6982,.03,.6975,-.12,.694,.19,.695,.09,.6962,-.02,.6972,-.09,.6988,-.18,.6948,.22,.6968,.05];
const a7_10=[.7,.6,.7003,.44,.7012,.3,.7012,.23,.7025,.15,.7035,.07,.7052,-.02,.707,-.14,.7085,-.22,.7102,-.29,.7115,-.4,.7125,-.5,.7135,-.65,.7139,-.71,.7142,-.9,.7142,-1.07,.7142,-1.35,.7015,.1,.7035,.2,.7055,.2,.7065,.08,.708,-.06,.7095,-.12,.7072,-.3,.7018,.19,.703,.11,.7044,.02,.7062,-.08,.7078,-.18,.7094,-.25,.7108,-.35,.712,-.45,.713,-.57,.7045,.12,.7068,.02,.7088,-.06,.7085,-.35];
const a5_7=[.7145,.65,.7145,.49,.715,.4,.7153,.26,.716,.16,.7175,.07,.7188,0,.72,-.14,.7215,-.22,.7232,-.28,.725,-.4,.726,-.48,.7268,-.58,.727,-.71,.7225,.03,.7225,-.08,.7245,-.2,.721,-.06,.724,-.1,.7255,-.25,.7156,.21,.7168,.11,.7182,.04,.7194,-.07,.7208,-.18,.7224,-.25,.7242,-.34,.7255,-.44,.7264,-.53,.7215,-.02,.7235,-.18,.7185,-.1,.72,-.28];
const a8_11=[.7275,.02,.7276,-.1,.7278,-.19,.7285,-.3,.7292,-.4,.731,-.48,.7335,-.56,.735,-.64,.7375,-.71,.739,-.8,.7425,-.92,.744,-1.0,.7465,-1.1,.748,-1.2,.7489,-1.3,.7495,-1.44,.7497,-1.63,.7499,-1.78,.75,-1.96,.75,-2.04,.7325,-.38,.7345,-.48,.736,-.6,.7385,-.45,.7385,-.68,.74,-.58,.7415,-.7,.743,-.8,.7355,-.95,.7375,-.88,.7455,-.85,.7288,-.35,.7302,-.44,.7322,-.52,.7342,-.6,.7362,-.68,.7382,-.76,.7405,-.86,.7432,-.96,.7452,-1.05,.7472,-1.15,.7485,-1.25,.7492,-1.37,.7315,-.62,.7335,-.45,.7352,-.55,.737,-.5,.7398,-.68,.7412,-.82,.7445,-.9,.7365,-.8];
const a3_4=[.75,1.46,.75,1.04,.7502,.85,.7504,.78,.7505,.69,.7507,.53,.7513,.42,.7518,.34,.7525,.25,.7532,.17,.754,.08,.7553,-.01,.7562,-.08,.758,-.16,.7595,-.23,.7615,-.3,.7635,-.34,.765,-.39,.767,-.48,.768,-.55,.7688,-.62,.77,-.72,.77,-.9,.756,-.12,.7575,-.3,.7595,-.38,.761,-.12,.7625,-.22,.764,-.45,.7648,.05,.7648,-.16,.766,-.3,.7605,-.3,.7506,.6,.751,.47,.7515,.38,.7522,.29,.7528,.21,.7536,.12,.7546,.03,.7558,-.05,.7572,-.12,.7588,-.2,.7605,-.26,.7625,-.32,.7642,-.37,.766,-.43,.7675,-.52,.7684,-.58,.7568,-.2,.7585,-.28,.762,-.38,.7652,-.48,.7635,-.15,.7665,-.4];
const a10_13=[.769,.05,.769,-.16,.7692,-.24,.7695,-.28,.7705,-.43,.7715,-.52,.773,-.61,.7745,-.7,.7758,-.78,.7762,-.86,.7718,-.4,.774,-.5,.77,-.36,.771,-.48,.7722,-.56,.7738,-.65,.7752,-.74,.7728,-.46,.7752,-.6];
const a7_9=[.7779,.06,.7779,-.05,.778,-.13,.7783,-.2,.779,-.36,.7798,-.45,.7808,-.51,.782,-.6,.7826,-.7,.7838,-.78,.7848,-.86,.7855,-.99,.7855,-1.11,.7777,-1.03,.7779,-1.28,.782,-.42,.783,-.58,.785,-.68,.7786,-.28,.7794,-.4,.7803,-.48,.7814,-.55,.7823,-.65,.7832,-.74,.7843,-.82,.7852,-.92,.7812,-.72,.7835,-.5,.7842,-.65];
const a11_14=[.7855,-.23,.7855,-.45,.786,-.55,.787,-.7,.7878,-.78,.7888,-.86,.7905,-.92,.7915,-.97,.7932,-1.08,.7942,-1.17,.7955,-1.25,.7968,-1.32,.7978,-1.42,.7985,-1.51,.7992,-1.63,.7993,-1.78,.7996,-1.98,.7997,-2.2,.789,-.65,.7912,-.82,.7925,-.95,.7948,-.95,.7962,-1.1,.7945,-1.26,.788,-1.05,.7895,-1.12,.7865,-.62,.7874,-.74,.7883,-.82,.7896,-.89,.791,-.95,.7924,-1.03,.7937,-1.12,.7948,-1.21,.7962,-1.28,.7973,-1.37,.79,-.76,.7918,-.88,.7935,-.92,.7955,-1.02,.7905,-1.02,.7925,-1.15,.794,-1.0];
const a4_5=[.8,.42,.8,.34,.8,.19,.8,.1,.8002,.01,.8005,-.12,.801,-.28,.8015,-.36,.8025,-.47,.8035,-.55,.8052,-.63,.8065,-.7,.8095,-.78,.812,-.84,.8132,-.9,.8142,-.98,.8152,-1.05,.816,-1.17,.8165,-1.24,.803,-.65,.8045,-.72,.806,-.58,.808,-.7,.8105,-.9,.8115,-.62,.8125,-.75,.815,-.85,.8122,-1.0,.8003,-.06,.8007,-.2,.8012,-.32,.802,-.42,.803,-.51,.8042,-.59,.8058,-.66,.808,-.74,.8108,-.81,.8126,-.87,.8137,-.94,.8147,-1.01,.8156,-1.11,.8038,-.7,.8055,-.75,.807,-.82,.8085,-.85,.81,-.72,.8112,-.72,.804,-.5,.8072,-.65,.8088,-.6];
const a9_11=[.8183,-.36,.8183,-.5,.8187,-.66,.8192,-.76,.8205,-.86,.8218,-.96,.8232,-1.05,.825,-1.15,.8268,-1.24,.828,-1.32,.8295,-1.4,.8305,-1.5,.8315,-1.59,.8325,-1.68,.8328,-1.75,.8332,-1.88,.8235,-.8,.8222,-.8,.8255,-1.0,.827,-1.06,.8238,-1.35,.8262,-1.15,.8285,-1.2,.8198,-.81,.8212,-.91,.8225,-1.0,.8241,-1.1,.8259,-1.2,.8274,-1.28,.8288,-1.36,.83,-1.45,.831,-1.55,.8245,-.95,.826,-1.05,.8278,-1.12,.825,-1.28,.8215,-1.05];
const a5_6=[.8333,.18,.8333,.02,.8333,-.08,.8336,-.28,.8338,-.38,.8338,-.45,.8345,-.63,.8355,-.78,.8365,-.85,.8385,-.93,.841,-1.0,.8418,-1.09,.8432,-1.16,.8455,-1.24,.8465,-1.33,.8462,-1.42,.838,-.82,.84,-.84,.8425,-.87,.8395,-1.08,.8412,-1.24,.844,-1.03,.845,-1.15,.8432,-.97,.835,-.71,.836,-.82,.8375,-.89,.8397,-.97,.8414,-1.05,.8425,-1.13,.8444,-1.2,.846,-1.28,.839,-.88,.8405,-.92,.8388,-1.0,.842,-.95,.8402,-1.16,.8442,-1.12];
const a11_13=[.8467,-.85,.8467,-.95,.8475,-1.05,.8488,-1.2,.8498,-1.28,.8515,-1.4,.853,-1.52,.8545,-1.63,.8555,-1.75,.8565,-1.84,.8505,-1.1,.8525,-1.3,.8535,-1.5,.8505,-1.56,.8525,-1.65,.8482,-1.13,.8492,-1.24,.8506,-1.34,.8522,-1.46,.8538,-1.57,.855,-1.69,.8515,-1.22,.8545,-1.4,.8555,-1.5];
const a6_7=[.8573,-.53,.8575,-.78,.8578,-.88,.8585,-.97,.8592,-1.08,.861,-1.15,.8625,-1.22,.8645,-1.28,.8665,-1.37,.869,-1.47,.8725,-1.67,.874,-1.75,.8752,-1.82,.8762,-2.02,.8765,-2.13,.8573,-2.2,.8573,-2.13,.8635,-1.1,.8678,-1.55,.866,-1.2,.8665,-1.15,.87,-1.6,.867,-1.78,.8588,-1.03,.86,-1.12,.8618,-1.18,.8635,-1.25,.8655,-1.33,.8678,-1.42,.8712,-1.58,.8732,-1.71,.8758,-1.92,.8628,-1.36,.8645,-1.4,.8655,-1.48,.8685,-1.3];
const a13_15=[.8675,-1.2,.8685,-1.4,.87,-1.51,.8715,-1.6,.8725,-1.5,.8705,-1.3,.8735,-1.65,.868,-1.3,.8692,-1.46,.8708,-1.56,.8715,-1.4,.873,-1.58];
const a7_8=[.8754,-1.12,.8758,-1.2,.8762,-1.28,.8775,-1.36,.8788,-1.44,.8805,-1.54,.8822,-1.63,.8835,-1.7,.8858,-1.78,.8875,-1.85,.8878,-1.98,.8885,-2.1,.8885,-2.17,.8889,-2.29,.8889,-2.49,.8795,-1.26,.8815,-1.4,.883,-1.5,.8845,-1.6,.8862,-1.4,.8805,-1.75,.8768,-1.32,.8782,-1.4,.8796,-1.49,.8813,-1.58,.8828,-1.66,.8846,-1.74,.8866,-1.81,.8876,-1.91,.8808,-1.36,.8822,-1.46,.8838,-1.55,.8852,-1.66,.8815,-1.62,.8795,-1.6];
const a8_9=[.8889,-1.19,.889,-1.3,.889,-1.44,.8895,-1.55,.8905,-1.63,.8915,-1.7,.893,-1.82,.8945,-1.9,.8965,-1.98,.8975,-2.08,.898,-2.17,.8995,-2.32,.8995,-2.44,.892,-1.55,.8935,-1.65,.895,-1.72,.8925,-1.95,.8892,-1.5,.89,-1.59,.891,-1.67,.8922,-1.76,.8938,-1.86,.8955,-1.94,.897,-2.03,.8985,-2.24,.8945,-1.75,.8958,-1.85,.894,-2.05];
const a9_10=[.9,-1.44,.9002,-1.55,.9012,-1.59,.9022,-1.7,.9035,-1.78,.905,-1.87,.906,-1.98,.9068,-2.09,.907,-2.2,.9078,-2.29,.9015,-1.75,.904,-1.62,.9045,-1.75,.9055,-1.95,.9035,-1.92,.9065,-1.8,.9008,-1.5,.9017,-1.65,.9028,-1.74,.9042,-1.82,.9055,-1.92,.9065,-2.04,.905,-1.7,.906,-1.88];
const a10_11=[.9092,-1.47,.9092,-1.63,.9092,-1.72,.9098,-1.82,.9108,-1.92,.9125,-1.98,.9135,-2.08,.9152,-2.17,.9165,-2.32,.9165,-2.48,.912,-1.85,.9145,-1.9,.915,-2.28,.914,-2.0,.9103,-1.87,.9116,-1.95,.913,-2.03,.9143,-2.12,.9158,-2.25,.9132,-1.92,.9155,-2.05];
const a11_12=[.917,-1.78,.9172,-1.9,.919,-2.02,.92,-2.12,.9212,-2.21,.9225,-2.33,.9235,-2.4,.9238,-2.68,.92,-1.93,.9215,-2.05,.9235,-2.15,.9225,-2.05,.918,-1.96,.9195,-2.07,.9206,-2.17,.9218,-2.27,.923,-2.37,.921,-1.98,.9225,-2.18];
const a12_13=[.9234,-1.78,.924,-1.9,.9258,-2.09,.927,-2.2,.928,-2.29,.929,-2.38,.9295,-2.79,.9285,-2.0,.93,-2.1,.931,-2.25,.932,-2.4,.9335,-2.1,.9335,-2.88,.932,-2.45,.9328,-2.6,.9345,-2.55,.9248,-2.0,.9264,-2.15,.9275,-2.25,.9286,-2.34,.9295,-2.2,.9305,-2.18,.9315,-2.32,.9325,-2.5,.9338,-2.2,.9348,-2.38,.9355,-2.48,.9362,-2.3];
const tail=[.9345,-2.3,.936,-2.38,.938,-2.48,.94,-2.55,.9405,-2.4,.9415,-2.63,.9425,-2.55,.9435,-2.65,.9445,-2.45,.945,-2.7,.9455,-2.6,.947,-2.68,.9475,-2.5,.948,-2.82,.949,-2.75,.95,-2.62,.9505,-2.85,.9505,-2.72,.952,-2.7,.9525,-2.9,.953,-2.8,.9545,-2.75,.955,-2.95,.956,-2.85,.957,-2.78,.9575,-3.0,.9585,-2.9,.9595,-3.05,.96,-2.85,.961,-3.0,.962,-3.1,.963,-2.98,.964,-3.15,.965,-3.05,.966,-3.22,.967,-3.13,.968,-3.3,.969,-3.2,.9695,-3.33,.9705,-3.27,.9715,-3.43,.9725,-3.38,.973,-3.48,.9742,-3.55,.9752,-3.6,.9765,-3.68,.977,-3.75,.9778,-3.78,.9785,-3.88,.9795,-3.91,.9802,-3.98,.981,-4.03,.9818,-4.1,.9825,-4.17,.983,-4.25,.9838,-4.29,.9845,-4.38,.985,-4.42,.9858,-4.49,.9866,-4.55,.9872,-4.62,.988,-4.68,.9888,-4.75,.9895,-4.8,.9902,-4.85,.9908,-4.9,.9915,-4.93,.9933,-4.96,.9495,-3.1,.9455,-3.0,.9475,-2.98,.9525,-3.1,.9545,-3.25,.9435,-2.82,.959,-3.18,.9635,-3.3];
const tailFill=[.9372,-2.42,.939,-2.52,.941,-2.5,.942,-2.68,.943,-2.58,.944,-2.72,.9452,-2.65,.9462,-2.76,.9468,-2.58,.9478,-2.72,.9485,-2.6,.9495,-2.82,.95,-2.7,.951,-2.78,.9515,-2.63,.952,-2.85,.9535,-2.85,.954,-2.95,.9555,-2.8,.9565,-2.92,.958,-2.82,.9582,-3.0,.959,-2.95,.9605,-3.08,.9615,-2.92,.9625,-3.04,.9635,-3.12,.9645,-3.02,.9655,-3.18,.9665,-3.08,.9675,-3.25,.9685,-3.15,.969,-3.28,.97,-3.35,.971,-3.32,.972,-3.4,.9735,-3.42,.9748,-3.5,.976,-3.62,.9775,-3.7,.979,-3.85,.9805,-3.94,.982,-4.07,.9835,-4.22,.9848,-4.34,.9862,-4.45,.9876,-4.58,.9892,-4.72,.9905,-4.82,.992,-4.9];
const allArcs=[head,headLane,band,bandFill,a1_16,a1_15,a1_14,a1_13,a1_12,a1_11,a1_10,a1_9,a1_8,a1_7,a2_13,a1_6,a2_11,a1_5,a2_9,a1_4tail,a1_4,a4_15,a3_11,a2_7,a3_10,a4_13,a1_3tail,a1_3,a5_14,a4_11,a3_8,a2_5,a5_12,a3_7,a4_9,a5_11,a6_13,a1_2tail,a1_2,a7_13,a6_11,a5_9,a4_7,a7_12,a3_5,a8_13,a5_8,a7_11,a9_14,a2_3,a9_13,a7_10,a5_7,a8_11,a3_4,a10_13,a7_9,a11_14,a4_5,a9_11,a5_6,a11_13,a6_7,a13_15,a7_8,a8_9,a9_10,a10_11,a11_12,a12_13,tail,tailFill];
const xTickVals=[.2,.4,.6,.8,1];
const xTickText=['0.2','0.4','0.6','0.8','1.0'];
const yTickVals=[-4,-2,0,2,4,6,8,10];
const yTickText=['\u22124','\u22122','','2','4','6','8','10'];
const xs=[],ys=[];
allArcs.forEach(a=>{for(let i=0;i<a.length;i+=2){xs.push(a[i]);ys.push(a[i+1]);}});
const W=2654,H=1661,L=2,T=21,B=2,X0=55,XU=2545;
const font={family:'"Liberation Sans",Arial,sans-serif',size:34,color:'#000'};
Plotly.newPlot('g',[{type:'scatter',mode:'markers',x:xs,y:ys,cliponaxis:false,
 marker:{symbol:'square',size:5.5,color:'#5E81B5',line:{width:0}}}],{
 width:W,height:H,margin:{l:L,r:0,t:T,b:B,pad:0},paper_bgcolor:'#fff',plot_bgcolor:'#fff',showlegend:false,hovermode:false,
 xaxis:{range:[(L-X0)/XU,(W-X0)/XU],anchor:'free',position:1/3,showgrid:false,zeroline:false,showline:true,linecolor:'#000',linewidth:1.5,
  tickmode:'array',tickvals:xTickVals,ticktext:xTickText,ticks:'inside',ticklen:20,tickwidth:1.5,tickcolor:'#000',tickfont:font,
  minor:{tickmode:'linear',tick0:0,dtick:.05,ticks:'inside',ticklen:13,tickwidth:1.5,tickcolor:'#000',showgrid:false}},
 yaxis:{range:[-5,10],anchor:'free',position:(X0-L)/(W-L),showgrid:false,zeroline:false,showline:true,linecolor:'#666',linewidth:5,
  tickmode:'array',tickvals:yTickVals,ticktext:yTickText,ticks:'inside',ticklen:15,tickwidth:5,tickcolor:'#666',tickfont:font,
  minor:{tickmode:'linear',tick0:0,dtick:.5,ticks:'inside',ticklen:7,tickwidth:5,tickcolor:'#666',showgrid:false}}
},{displayModeBar:false,staticPlot:true});
</script></body></html>
